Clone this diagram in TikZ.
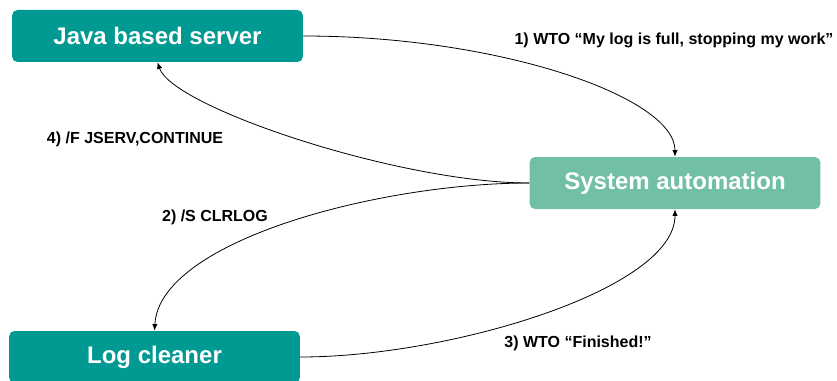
\documentclass[tikz,border=0pt]{standalone}
\usepackage{fontspec}
\setmainfont{Liberation Sans}
\usetikzlibrary{arrows.meta}
\definecolor{tealbox}{RGB}{0, 154, 147}
\definecolor{mintbox}{RGB}{114, 191, 167}

\begin{document}
\begin{tikzpicture}[x=0.75pt, y=-0.75pt,
    box/.style={rounded corners=4pt, minimum width=218pt, minimum height=39pt,
        text=white, font=\fontsize{18}{21}\selectfont\bfseries, inner sep=0pt},
    msg/.style={font=\fontsize{12}{14}\selectfont\bfseries, inner sep=0pt},
    flow/.style={-{Latex[length=5pt,width=4pt]}, line width=0.6pt}]
    % Rahmen des Bildes
    \useasboundingbox (0,0) rectangle (837,381);

    % Die drei Komponenten
    \node[box, fill=tealbox] (server) at (157.5,36) {Java based server};
    \node[box, fill=mintbox] (automation) at (675,183) {System automation};
    \node[box, fill=tealbox] (cleaner) at (154.5,357) {Log cleaner};

    % Nachrichten zwischen den Komponenten
    \draw[flow] (server.east) .. controls +(195,0) and +(0,-60) .. (automation.north);
    \draw[flow] (automation.west) .. controls +(-130,0) and +(15,45) .. (server.south);
    \draw[flow] (automation.west) .. controls +(-150,0) and +(5,-90) .. (cleaner.north);
    \draw[flow] (cleaner.east) .. controls +(150,0) and +(0,80) .. (automation.south);

    % Beschriftungen der Schritte
    \node[msg] (step1) at (674,40) {1) WTO “My log is full, stopping my work”};
    \node[msg] (step4) at (135,139) {4) /F JSERV,CONTINUE};
    \node[msg] (step2) at (215,217) {2) /S CLRLOG};
    \node[msg] (step3) at (578,343) {3) WTO “Finished!”};
\end{tikzpicture}
\end{document}
